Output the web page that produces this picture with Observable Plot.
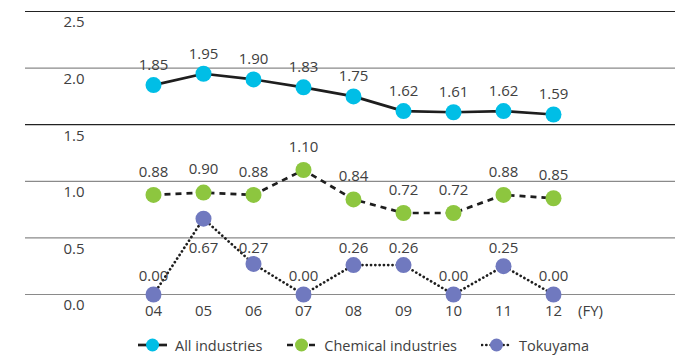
<!DOCTYPE html>
<html>
<head>
<meta charset="utf-8">
<script src="https://cdn.jsdelivr.net/npm/d3@7"></script>
<script src="https://cdn.jsdelivr.net/npm/@observablehq/plot@0.6"></script>
<style>
  body { margin: 0; background: #fff; font-family: "Open Sans", sans-serif; }
  #legend { display: flex; align-items: center; padding-left: 137px; height: 26px; font-size: 14.5px; color: #404040; }
  .item { display: flex; align-items: center; margin-right: 24px; }
  .item svg { margin-right: 7px; }
</style>
</head>
<body>
<div id="chart"></div>
<div id="legend"></div>
<script>
// Fiscal years (FY2004–FY2012)
const years = ["04", "05", "06", "07", "08", "09", "10", "11", "12"];
// Lost-time injury frequency rate by group
const allIndustries = [1.85, 1.95, 1.90, 1.83, 1.75, 1.62, 1.61, 1.62, 1.59];
const chemicalIndustries = [0.88, 0.90, 0.88, 1.10, 0.84, 0.72, 0.72, 0.88, 0.85];
const tokuyama = [0.00, 0.67, 0.27, 0.00, 0.26, 0.26, 0.00, 0.25, 0.00];
const yTicks = [0, 0.5, 1.0, 1.5, 2.0, 2.5];
const seriesNames = ["All industries", "Chemical industries", "Tokuyama"];

const seriesStyle = {
  "All industries": { fill: "#00bee6", dash: null, cap: "butt" },
  "Chemical industries": { fill: "#8dc63f", dash: "6,5", cap: "butt" },
  "Tokuyama": { fill: "#7079bf", dash: "0.1,4.2", cap: "round" }
};

const valuesBySeries = {
  "All industries": allIndustries,
  "Chemical industries": chemicalIndustries,
  "Tokuyama": tokuyama
};

const rows = seriesNames.flatMap(s =>
  years.map((year, i) => ({ series: s, year, value: valuesBySeries[s][i] }))
);
const of = s => rows.filter(d => d.series === s);

const marks = [
  // horizontal guides: 2.5 and 1.5 dark, the rest grey
  Plot.ruleY(yTicks.filter(d => d === 2.5 || d === 1.5), { stroke: "#222", strokeWidth: 1.2 }),
  Plot.ruleY(yTicks.filter(d => !(d === 2.5 || d === 1.5)), { stroke: "#8a8a8a", strokeWidth: 1.2 }),
  // y labels sit just under their guide
  Plot.text(yTicks, { y: d => d, text: d => d.toFixed(1), frameAnchor: "left", dx: 38, dy: 11 }),
  // x labels
  Plot.text(years, { x: d => d, frameAnchor: "bottom", dy: 21 }),
  Plot.text(["(FY)"], { x: () => years[years.length - 1], frameAnchor: "bottom", dy: 21, dx: 37 })
];

for (const s of seriesNames) {
  const st = seriesStyle[s];
  marks.push(Plot.line(of(s), {
    x: "year", y: "value", stroke: "#1e1e1e", strokeWidth: 2.7,
    strokeDasharray: st.dash, strokeLinecap: st.cap
  }));
}
for (const s of seriesNames) {
  marks.push(Plot.dot(of(s), { x: "year", y: "value", r: 8, fill: seriesStyle[s].fill, stroke: null }));
}

// value labels
marks.push(Plot.text(of("All industries"), { x: "year", y: "value", text: d => d.value.toFixed(2), dy: -20 }));
marks.push(Plot.text(of("Chemical industries"), { x: "year", y: "value", text: d => d.value.toFixed(2), dy: -23 }));
marks.push(Plot.text(of("Tokuyama"), { x: "year", y: d => Math.min(d.value + 0.16, 0.41), text: d => d.value.toFixed(2) }));

const chart = Plot.plot({
  width: 690,
  height: 332,
  marginTop: 11,
  marginBottom: 38,
  marginLeft: 25,
  marginRight: 15,
  x: { type: "point", domain: years, range: [153, 553], padding: 0, axis: null },
  y: { domain: [0, 2.5], axis: null },
  style: { fontFamily: "Open Sans, sans-serif", fontSize: "15px", color: "#404040", background: "#fff" },
  marks
});
document.getElementById("chart").append(chart);

// legend
const legend = d3.select("#legend");
for (const s of seriesNames) {
  const st = seriesStyle[s];
  const item = legend.append("div").attr("class", "item");
  const svg = item.append("svg").attr("width", 31).attr("height", 16);
  svg.append("line").attr("x1", 1).attr("x2", 30).attr("y1", 8).attr("y2", 8)
    .attr("stroke", "#1e1e1e").attr("stroke-width", 2.7)
    .attr("stroke-dasharray", st.dash).attr("stroke-linecap", st.cap);
  svg.append("circle").attr("cx", 15.5).attr("cy", 8).attr("r", 6.5).attr("fill", st.fill);
  item.append("span").text(s);
}
</script>
</body>
</html>
